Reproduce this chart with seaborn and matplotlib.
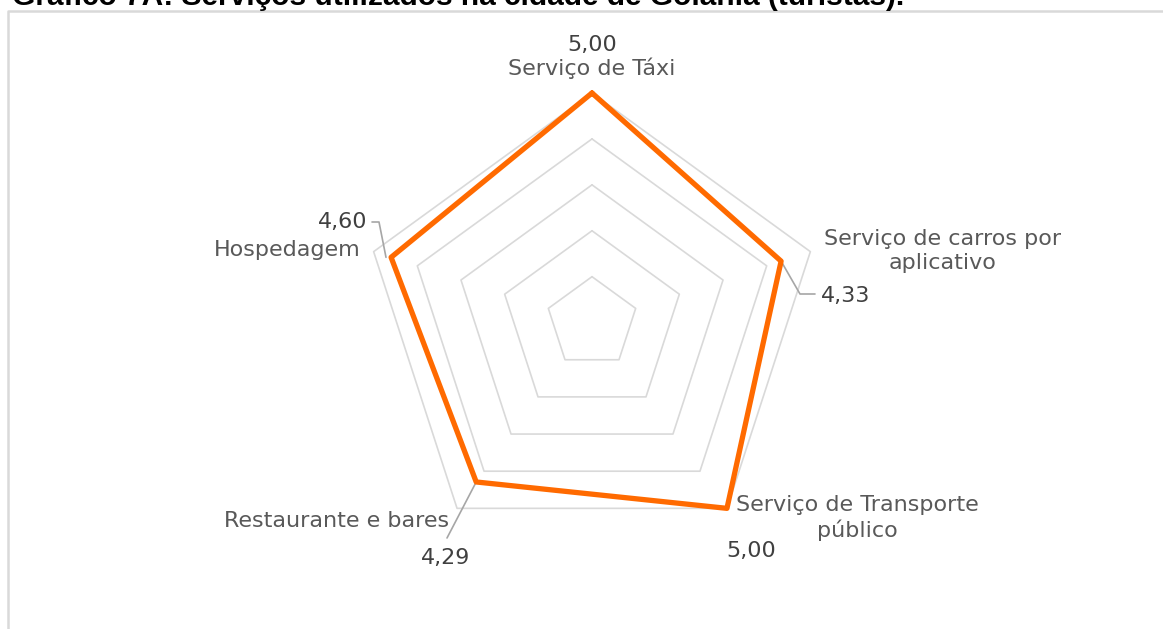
import numpy as np
import pandas as pd
import matplotlib
matplotlib.use("Agg")
import matplotlib.pyplot as plt
import seaborn as sns

categories = ["Serviço de Táxi", "Serviço de carros por\naplicativo",
              "Serviço de Transporte\npúblico", "Restaurante e bares", "Hospedagem"]
values = [5.00, 4.33, 5.00, 4.29, 4.60]
value_labels = ["5,00", "4,33", "5,00", "4,29", "4,60"]
rings = [1, 2, 3, 4, 5]
title = "Gráfico 7A: Serviços utilizados na cidade de Goiânia (turistas)."

sns.set_style("white")
plt.rcParams['font.family'] = ['DejaVu Sans']

W, H = 1163, 629
fig = plt.figure(figsize=(W / 100, H / 100), dpi=100)
ax = fig.add_axes([0, 0, 1, 1])

cx, cy, R, vmax = 592, 322.6, 229.6, 5.0
angles = np.deg2rad(90 - 72 * np.arange(len(categories)))


def to_xy(r, a):
    return cx + r / vmax * R * np.cos(a), cy - r / vmax * R * np.sin(a)


# pentagon grid
for g in rings:
    gx, gy = to_xy(g, np.append(angles, angles[0]))
    ax.plot(gx, gy, color="#d9d9d9", lw=1.2, zorder=1)

# data line
px, py = to_xy(np.array(values), angles)
df = pd.DataFrame({"x": np.append(px, px[0]), "y": np.append(py, py[0])})
sns.lineplot(data=df, x="x", y="y", sort=False, estimator=None, ax=ax,
             color="#ff6a00", lw=3.8, zorder=3)
ax.set_xlim(0, W)
ax.set_ylim(H, 0)
ax.axis("off")

grey = "#595959"
fs = 16
# category labels
ax.text(592, 68, categories[0], ha="center", va="center", fontsize=fs, color=grey)
ax.text(943, 251, categories[1], ha="center", va="center", fontsize=fs, color=grey,
        linespacing=1.3)
ax.text(857, 518, categories[2], ha="center", va="center", fontsize=fs, color=grey,
        linespacing=1.3)
ax.text(449, 521, categories[3], ha="right", va="center", fontsize=fs, color=grey)
ax.text(361, 250, categories[4], ha="right", va="center", fontsize=fs, color=grey)

# value labels
lab = "#404040"
ax.text(592, 45, value_labels[0], ha="center", va="center", fontsize=fs, color=lab)
ax.text(821, 296, value_labels[1], ha="left", va="center", fontsize=fs, color=lab)
ax.text(751, 551, value_labels[2], ha="center", va="center", fontsize=fs, color=lab)
ax.text(446, 558, value_labels[3], ha="center", va="center", fontsize=fs, color=lab)
ax.text(367, 222, value_labels[4], ha="right", va="center", fontsize=fs, color=lab)

# leader lines
lc = "#a6a6a6"
ax.plot([px[1], 800, 815], [py[1], 294, 294], color=lc, lw=1.2, zorder=2)
ax.plot([px[3], 447], [py[3], 538], color=lc, lw=1.2, zorder=2)
ax.plot([372, 379, 386], [222, 222, py[4]], color=lc, lw=1.2, zorder=2)

# chart border
ax.plot([8, 8, W + 5], [H + 5, 11, 11], color="#d9d9d9", lw=1.8, zorder=0)

# title (partly cut at top)
ax.text(12, 5, title, ha="left", va="baseline", fontsize=21.5,
        fontweight="bold", color="black", family=["Liberation Sans"])

fig.savefig("out.png", dpi=100)
